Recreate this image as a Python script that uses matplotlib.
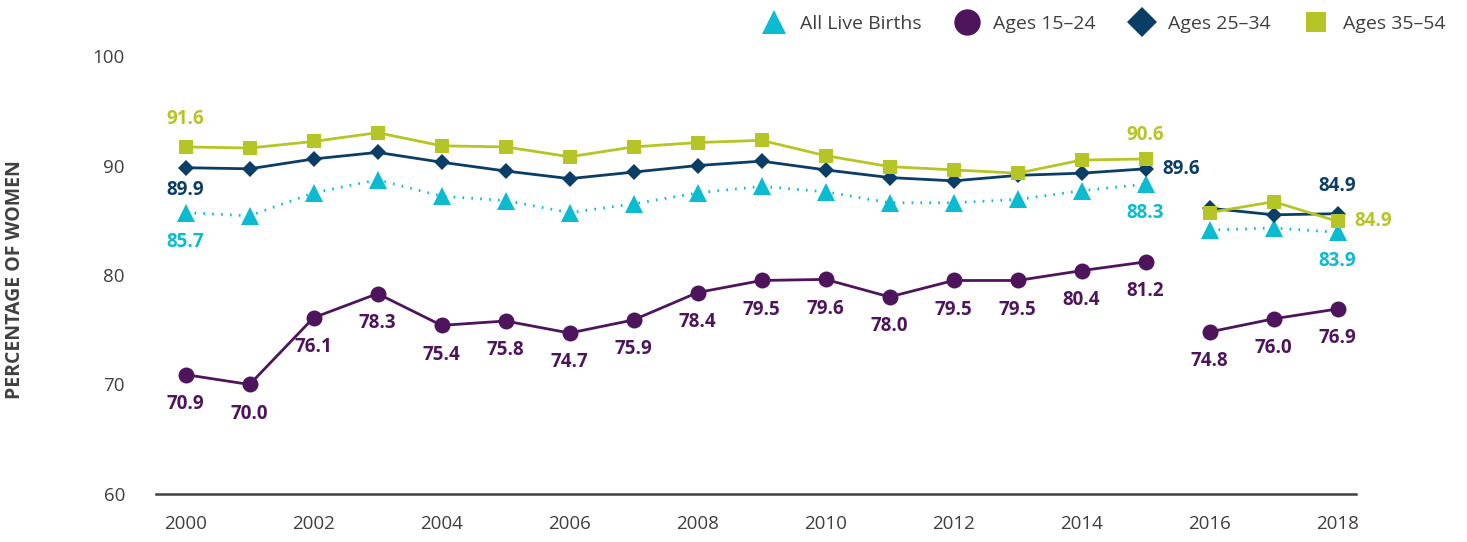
import matplotlib.pyplot as plt
from matplotlib.lines import Line2D

plt.rcParams['font.family'] = ['Open Sans', 'DejaVu Sans']

# ---- data ----
years = list(range(2000, 2019))
all_births = [85.7, 85.4, 87.5, 88.7, 87.2, 86.8, 85.7, 86.5, 87.5, 88.1,
              87.6, 86.6, 86.6, 86.9, 87.7, 88.3, 84.1, 84.3, 83.9]
ages_15_24 = [70.9, 70.0, 76.1, 78.3, 75.4, 75.8, 74.7, 75.9, 78.4, 79.5,
              79.6, 78.0, 79.5, 79.5, 80.4, 81.2, 74.8, 76.0, 76.9]
ages_25_34 = [89.8, 89.7, 90.6, 91.2, 90.3, 89.5, 88.8, 89.4, 90.0, 90.4,
              89.6, 88.9, 88.6, 89.1, 89.3, 89.7, 86.1, 85.5, 85.6]
ages_35_54 = [91.7, 91.6, 92.2, 93.0, 91.8, 91.7, 90.8, 91.7, 92.1, 92.3,
              90.9, 89.9, 89.6, 89.3, 90.5, 90.6, 85.7, 86.7, 84.9]

# value labels shown on the chart: year -> (text, placement)
labels_all = {2000: ('85.7', 'below'), 2015: ('88.3', 'below'), 2018: ('83.9', 'below')}
labels_25 = {2000: ('89.9', 'below_near'), 2015: ('89.6', 'right'), 2018: ('84.9', 'above')}
labels_35 = {2000: ('91.6', 'above'), 2015: ('90.6', 'above_near'), 2018: ('84.9', 'right')}

BREAK = 2015  # series restarts after this year

C_ALL = '#0BBBD0'
C_15 = '#4E155C'
C_25 = '#0B3E66'
C_35 = '#B5C525'
C_TXT = '#404040'

# offsets in points for each placement
PLACE = {
    'below': ((0, -21), 'center'),
    'below_near': ((0, -16), 'center'),
    'above': ((0, 20), 'center'),
    'above_near': ((0, 17), 'center'),
    'right': ((12, 0), 'left'),
}

fig = plt.figure(figsize=(14.67, 5.42), dpi=100)
ax = fig.add_axes([0.106, 0.0886, 0.818, 0.808])


def draw(vals, color, marker, ms, ls, zorder):
    i = years.index(BREAK) + 1
    for xs, ys in ((years[:i], vals[:i]), (years[i:], vals[i:])):
        ax.plot(xs, ys, color=color, lw=2.0, ls=ls, marker=marker, ms=ms,
                markeredgewidth=0, clip_on=False, zorder=zorder)


draw(all_births, C_ALL, '^', 13, (0, (0.6, 2.6)), 3)
draw(ages_15_24, C_15, 'o', 11.5, '-', 4)
draw(ages_25_34, C_25, 'D', 8.5, '-', 5)
draw(ages_35_54, C_35, 's', 9.5, '-', 6)

for vals, color, labs in ((all_births, C_ALL, labels_all),
                          (ages_25_34, C_25, labels_25),
                          (ages_35_54, C_35, labels_35)):
    for yr, (txt, where) in labs.items():
        v = vals[years.index(yr)]
        off, ha = PLACE[where]
        ax.annotate(txt, (yr, v), xytext=off, textcoords='offset points',
                    ha=ha, va='center', color=color, fontsize=13.5, fontweight='bold')

for yr, v in zip(years, ages_15_24):
    ax.annotate(f'{v:.1f}', (yr, v), xytext=(0, -21), textcoords='offset points',
                ha='center', va='center', color=C_15, fontsize=13.5, fontweight='bold')

ax.set_xlim(1999.53, 2018.28)
ax.set_ylim(60, 100)
ax.set_xticks(range(2000, 2019, 2))
ax.set_yticks([60, 70, 80, 90, 100])
for s in ('top', 'right', 'left'):
    ax.spines[s].set_visible(False)
ax.spines['bottom'].set_color(C_TXT)
ax.spines['bottom'].set_linewidth(1.8)
ax.tick_params(axis='both', length=0, labelsize=13.5, colors=C_TXT)
ax.tick_params(axis='y', pad=22)
ax.tick_params(axis='x', pad=15)

fig.text(15 / 1467, 0.485, 'PERCENTAGE OF WOMEN', rotation=90, ha='center', va='center',
         fontsize=14, fontweight='bold', color=C_TXT)

handles = [
    Line2D([], [], ls='none', marker='^', ms=17, color=C_ALL, markeredgewidth=0),
    Line2D([], [], ls='none', marker='o', ms=19, color=C_15, markeredgewidth=0),
    Line2D([], [], ls='none', marker='D', ms=15, color=C_25, markeredgewidth=0),
    Line2D([], [], ls='none', marker='s', ms=14, color=C_35, markeredgewidth=0),
]
fig.legend(handles, ['All Live Births', 'Ages 15–24', 'Ages 25–34', 'Ages 35–54'],
           loc='upper right', bbox_to_anchor=(0.997, 1.005), ncol=4, frameon=False,
           fontsize=14, labelcolor=C_TXT, handletextpad=0.6, columnspacing=1.6,
           handlelength=1.5)

fig.savefig('out.png', dpi=100)
